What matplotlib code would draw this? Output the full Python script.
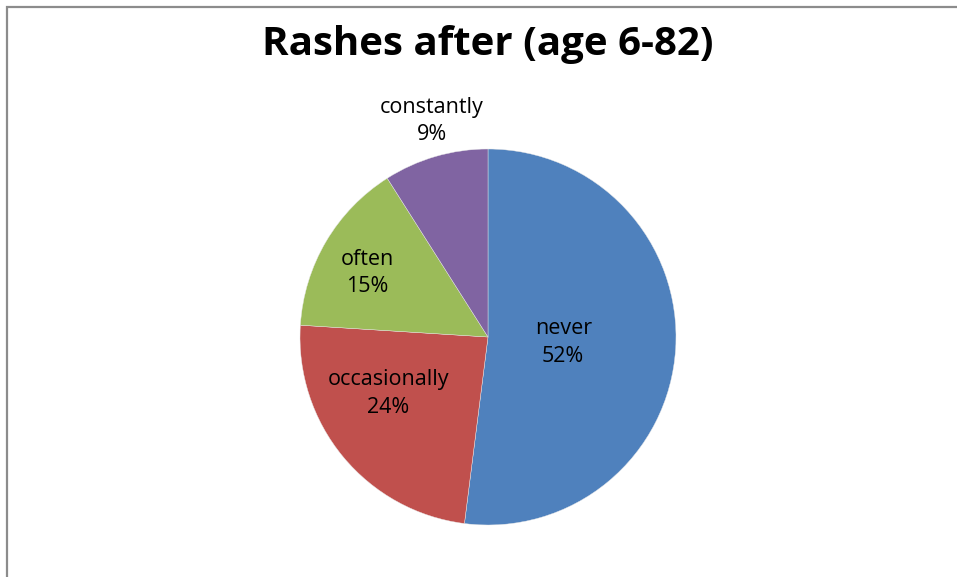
import matplotlib
matplotlib.use("Agg")
import matplotlib.pyplot as plt
from matplotlib.patches import Rectangle

# Data
categories = ["never", "occasionally", "often", "constantly"]
percents = [52, 24, 15, 9]
colors = ["#4F81BD", "#C0504D", "#9BBB59", "#8064A2"]

# label placement in pie radius units (x, y)
label_pos = [(0.40, -0.03), (-0.53, -0.30), (-0.64, 0.34), (-0.30, 1.15)]

plt.rcParams["font.family"] = ["Open Sans", "DejaVu Sans"]

W, H = 957, 577
fig = plt.figure(figsize=(W / 100, H / 100), dpi=100)

# grey chart frame (right/bottom edges run off the picture)
fig.patches.append(Rectangle((7 / W, -0.1), 1.2, 1 - 7 / H + 0.1,
                             transform=fig.transFigure, fill=False,
                             edgecolor="#8C8C8C", linewidth=1.6))

cx, cy, r = 488, 337, 188
ax = fig.add_axes([(cx - r) / W, (H - cy - r) / H, 2 * r / W, 2 * r / H])
ax.pie(percents, colors=colors, startangle=90, counterclock=False,
       radius=1.0, wedgeprops={"linewidth": 0.3, "edgecolor": "#E8E8E8"})
ax.set_xlim(-1, 1)
ax.set_ylim(-1, 1)
ax.set_aspect("equal")
ax.axis("off")

for name, p, (x, y) in zip(categories, percents, label_pos):
    ax.text(x, y, f"{name}\n{p}%", ha="center", va="center",
            fontsize=15.5, linespacing=1.4, color="black", clip_on=False)

fig.text(cx / W, 1 - 44 / H, "Rashes after (age 6-82)", ha="center",
         va="center", fontsize=29, fontweight="bold")

fig.savefig("out.png", dpi=100)
